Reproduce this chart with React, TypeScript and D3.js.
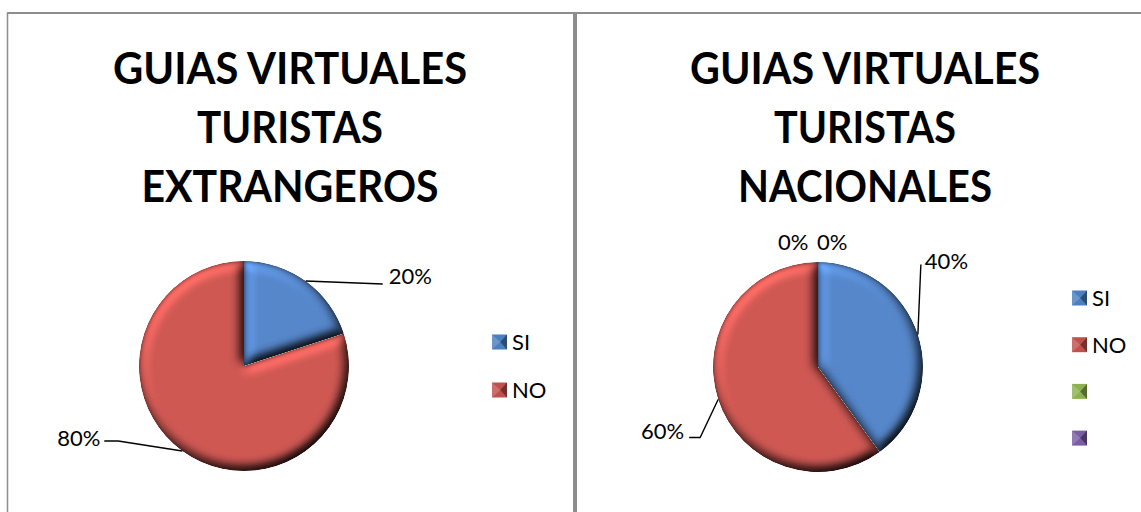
// Dos tortas 3D: guias virtuales para turistas extranjeros y nacionales
import { useRef, useEffect } from 'react'
import * as d3 from 'd3'

const categoriasExt = ['SI', 'NO']
const valoresExt = [20, 80]
const categoriasNac = ['SI', 'NO', '', '']
const valoresNac = [40, 60, 0, 0]
const tituloExt = ['GUIAS VIRTUALES', 'TURISTAS', 'EXTRANGEROS']
const tituloNac = ['GUIAS VIRTUALES', 'TURISTAS', 'NACIONALES']

const colores = ['#5687cb', '#cf5853', '#9bbb59', '#8064a2']
const coloresLeyenda = ['#4b7fbf', '#c0504d', '#8db150', '#7a5ea3']

// posiciones de cada panel (layout, no datos)
const paneles = [
  {
    categorias: categoriasExt, valores: valoresExt, titulo: tituloExt,
    cx: 244, cy: 366, r: 105, tx: 290, anchos: [354, 186, 297],
    leyX: 492, leyY: 342, leyPaso: 48,
    etiquetas: [
      { linea: [[77, 3]], texto: [83, 3], anchor: 'start' },
      { linea: [[-64, -10], [-78, -10]], texto: [-82, -5], anchor: 'end' },
    ],
  },
  {
    categorias: categoriasNac, valores: valoresNac, titulo: tituloNac,
    cx: 818, cy: 367, r: 105, tx: 865, anchos: [350, 182, 254],
    leyX: 1072, leyY: 298, leyPaso: 46.7,
    etiquetas: [
      { linea: [[3, -70]], texto: [7, -66], anchor: 'start' },
      { linea: [[-18, 38], [-29, 38]], texto: [-34, 40], anchor: 'end' },
      { linea: [], texto: [-40, -12], anchor: 'start' },
      { linea: [], texto: [-1, -12], anchor: 'start' },
    ],
  },
]

export default function App() {
  const svgRef = useRef<SVGSVGElement>(null)

  useEffect(() => {
    const width = 1141
    const height = 512
    const svg = d3.select(svgRef.current).attr('width', width).attr('height', height)
    svg.selectAll('*').remove()

    svg.append('rect').attr('width', width).attr('height', height).attr('fill', '#fff')

    // filtro de bisel para dar el aspecto 3D de Excel
    const defs = svg.append('defs')
    const elev = 55
    const f = defs.append('filter').attr('id', 'bisel')
      .attr('x', '-5%').attr('y', '-5%').attr('width', '110%').attr('height', '110%')
      .attr('color-interpolation-filters', 'sRGB')
    f.append('feGaussianBlur').attr('in', 'SourceAlpha').attr('stdDeviation', 6).attr('result', 'blur')
    f.append('feDiffuseLighting').attr('in', 'blur').attr('surfaceScale', 7)
      .attr('diffuseConstant', 1).attr('lighting-color', '#fff').attr('result', 'luz')
      .append('feDistantLight').attr('azimuth', 235).attr('elevation', elev)
    f.append('feComposite').attr('in', 'SourceGraphic').attr('in2', 'luz')
      .attr('operator', 'arithmetic')
      .attr('k1', 1 / Math.sin(elev * Math.PI / 180)).attr('k2', 0).attr('k3', 0).attr('k4', 0)
      .attr('result', 'sombra')
    // borde oscuro fino en el contorno
    f.append('feGaussianBlur').attr('in', 'SourceAlpha').attr('stdDeviation', 2).attr('result', 'b2')
    f.append('feComposite').attr('in', 'SourceAlpha').attr('in2', 'b2')
      .attr('operator', 'arithmetic').attr('k1', 0).attr('k2', 1.4).attr('k3', -1.4).attr('k4', 0)
      .attr('result', 'borde')
    f.append('feFlood').attr('flood-color', '#000').attr('flood-opacity', 0.5).attr('result', 'negro')
    f.append('feComposite').attr('in', 'negro').attr('in2', 'borde').attr('operator', 'in').attr('result', 'bordeNegro')
    const mg = f.append('feMerge').attr('result', 'todo')
    mg.append('feMergeNode').attr('in', 'sombra')
    mg.append('feMergeNode').attr('in', 'bordeNegro')
    f.append('feComposite').attr('in', 'todo').attr('in2', 'SourceAlpha').attr('operator', 'in')

    // marcos
    const gris = '#8d8d8d'
    svg.append('line').attr('x1', 7).attr('x2', width).attr('y1', 13).attr('y2', 13)
      .attr('stroke', gris).attr('stroke-width', 2)
    svg.append('line').attr('x1', 7.5).attr('x2', 7.5).attr('y1', 13).attr('y2', height)
      .attr('stroke', gris).attr('stroke-width', 1.5)
    svg.append('line').attr('x1', 575).attr('x2', 575).attr('y1', 13).attr('y2', height)
      .attr('stroke', gris).attr('stroke-width', 4)

    const fuente = "Lato, 'Open Sans', sans-serif"
    const fmt = d3.format('.0%')

    paneles.forEach(p => {
      const g = svg.append('g')

      // título
      g.selectAll('text.titulo')
        .data(p.titulo)
        .join('text')
        .attr('class', 'titulo')
        .attr('x', p.tx)
        .attr('y', (d, i) => 84 + i * 59)
        .attr('text-anchor', 'middle')
        .attr('font-family', fuente)
        .attr('font-weight', 'bold')
        .attr('font-size', '43px')
        .attr('textLength', (d, i) => p.anchos[i])
        .attr('lengthAdjust', 'spacingAndGlyphs')
        .attr('fill', '#000')
        .text(d => d)

      const datos = p.categorias.map((c, i) => ({ cat: c, valor: p.valores[i], i }))
      const total = d3.sum(p.valores)
      const pie = d3.pie<any>().sort(null).value(d => d.valor)
      const arcos = pie(datos)
      const arco = d3.arc<any>().innerRadius(0).outerRadius(p.r)

      const gp = g.append('g').attr('transform', `translate(${p.cx},${p.cy})`)
      gp.selectAll('path')
        .data(arcos.filter(a => a.data.valor > 0))
        .join('path')
        .attr('d', arco)
        .attr('fill', d => colores[d.data.i])
        .attr('filter', 'url(#bisel)')

      // etiquetas de porcentaje con líneas guía
      arcos.forEach((a, i) => {
        const et = p.etiquetas[i]
        const m = (a.startAngle + a.endAngle) / 2
        const x0 = Math.sin(m) * p.r
        const y0 = -Math.cos(m) * p.r
        if (et.linea.length) {
          const pts: [number, number][] = [[x0, y0], ...et.linea.map(([dx, dy]) => [x0 + dx, y0 + dy] as [number, number])]
          gp.append('path')
            .attr('d', d3.line()(pts))
            .attr('fill', 'none')
            .attr('stroke', '#000')
            .attr('stroke-width', 1.4)
        }
        gp.append('text')
          .attr('x', x0 + et.texto[0])
          .attr('y', y0 + et.texto[1])
          .attr('text-anchor', et.anchor)
          .attr('font-family', fuente)
          .attr('font-size', '22px')
          .attr('fill', '#000')
          .text(fmt(a.data.valor / total))
      })

      // leyenda
      const s = 15
      const ley = g.selectAll('g.ley')
        .data(datos)
        .join('g')
        .attr('class', 'ley')
        .attr('transform', (d, i) => `translate(${p.leyX},${p.leyY + i * p.leyPaso - s / 2})`)
      ley.append('rect').attr('width', s).attr('height', s)
        .attr('fill', d => coloresLeyenda[d.i])
      ley.append('path')
        .attr('d', `M0,0L${s * 0.55},${s / 2}L0,${s}Z`)
        .attr('fill', '#fff').attr('fill-opacity', 0.18)
      ley.append('path')
        .attr('d', `M${s},0L${s * 0.55},${s / 2}L${s},${s}Z`)
        .attr('fill', '#000').attr('fill-opacity', 0.4)
      ley.append('text')
        .attr('x', s + 5)
        .attr('y', s / 2 + 7.9)
        .attr('font-family', fuente)
        .attr('font-size', '22px')
        .attr('fill', '#000')
        .text(d => d.cat)
    })
  }, [])

  return <svg ref={svgRef} style={{ display: 'block', position: 'absolute', left: 0, top: 0 }} />
}
